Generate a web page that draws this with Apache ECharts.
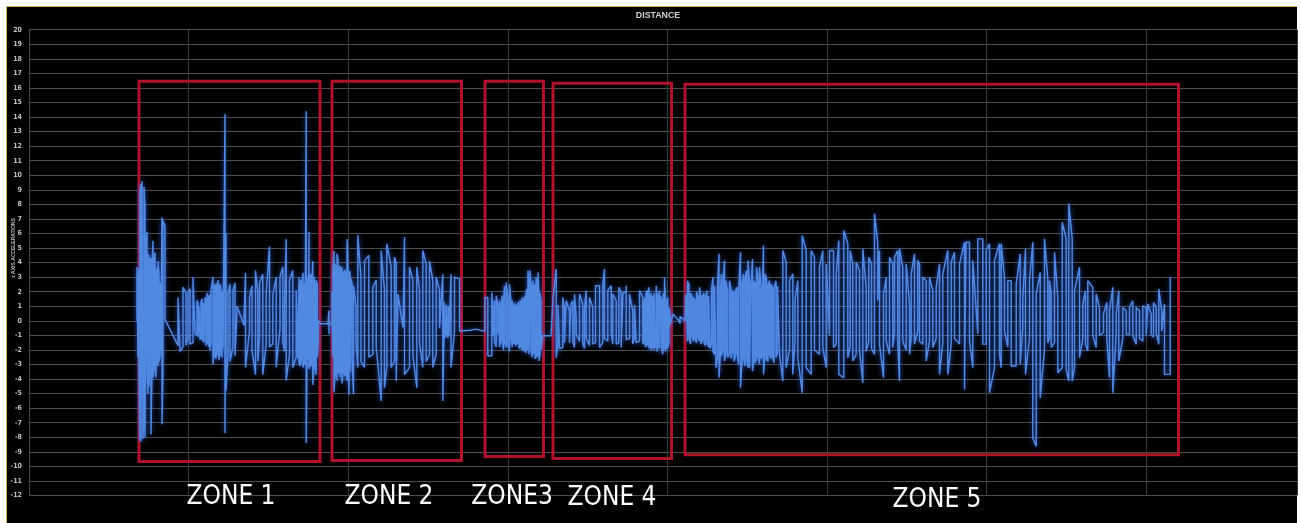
<!DOCTYPE html>
<html>
<head>
<meta charset="utf-8">
<script src="https://cdn.jsdelivr.net/npm/echarts@6/dist/echarts.min.js"></script>
<style>
html, body { margin: 0; padding: 0; background: #fff; width: 1301px; height: 523px; overflow: hidden; }
#frame { position: absolute; left: 6px; top: 6px; width: 1291px; height: 517px; background: #000;
         border-left: 1.5px solid #c9b45a; border-top: 1.5px solid #c9b45a; box-sizing: border-box; }
#chart { position: absolute; left: 0; top: 0; width: 1301px; height: 523px; }
</style>
</head>
<body>
<div id="frame"></div>
<div id="chart"></div>
<script>
// Z-axis acceleration readings along the run.
// Each column is [distance, reading, reading, ...]: several readings share one distance value.
const zone1 = [
  [108,0,3.7],[109,-2.5,2.2],[110,3.6,-3.1],[111,-8.2,8.8],[112,9.4,-8.3],[113,-8.4,9.6],[114,9.5,-8.1],[115,-6.5,9.2],
  [116,7.8,-8.0],[117,-8.0,5.2],[118,6.1,-3.4],[119,-5.0,4.6],[120,4.4,-4.5],[121,-3.2,4.0],[122,4.3,-7.8],[123,-3.5,3.6],
  [124,5.5,-3.9],[125,-3.0,4.2],[126,4.7,-3.3],[127,-3.9,3.4],[128,3.6,-2.9],[129,-3.1,4.1],[130,3.1,-2.8],[131,-2.4,2.6],
  [132,2.2,-2.0],[133,7.1,-7.1],[134,-3.5,6.9],[136,6.5,0.1],
  [137,0.0],[149,-1.7,1.6],[151,1.5,-2.1],[154,-1.8,2.3],[157,1.9,-1.7],[159,-1.2,2.0],[161,2.2,-1.6],[164,-1.5,3.0],[166,2.9,-0.8],
  [168,-1.0,1.4],[169,1.2,-1.1],[170,-1.2,1.0],[171,0.9,-1.3],[172,-1.1,1.3],[173,1.5,-1.2],[174,-1.4,1.2],[175,1.0,-1.5],
  [176,-1.6,1.6],[177,1.3,-1.7],[178,-1.5,1.9],[179,1.7,-1.3],[180,-1.8,1.5],[181,1.8,-2.0],[182,-1.6,2.1],[184,3.0,-3.0],
  [185,-2.2,2.2],[186,2.5,-2.4],[187,-2.6,2.3],[188,2.6,-2.2],[189,-2.4,2.8],[190,2.2,-2.7],[191,-2.0,2.5],[192,2.1,-2.3],
  [193,-2.5,2.0],[194,1.8,-1.9],[196,14.2,-7.7],[197,6.0,-4.8],[199,-2.2,1.9],
  [201,2.5,-2.8],[204,-1.8,2.1],[206,2.6,-2.4],[208,0.6,1.0],[215,-0.3,0.2],[216.5,3.3,-3.2],[220.5,-0.7,1.6],[223,2.4,-2.0],
  [226.5,-3.7,3.45],[228.8,2.0,-2.8],[230.5,-1.2,2.6],[233.8,3.2,-3.7],[237.2,-1.6,1.9],[240.5,5.1,-1.8],[243.8,-1.6,1.8],
  [247.2,3.0,-3.2],[251,-0.5,3.0],[253.8,3.7,-1.4],[255.5,-2.1,1.0],[257.2,5.6,-4.1],[260.5,-2.3,2.8],[263.8,3.45,-3.2],
  [267.2,-2.5,2.1],
  [269,2.2,-2.6],[270,3.0,-2.9],[271,-3.1,2.6],[272,2.8,-3.0],[273,-2.4,2.7],[274,3.3,-3.2],[275,-2.9,2.4],[276,2.6,-3.0],
  [277.2,14.4,-8.4],[278,-3.1,3.0],[279,2.5,-2.7],[280,6.1,-3.3],[281,-3.0,2.9],[282,3.2,-3.1],[283,-2.9,2.6],[283.8,4.1,-4.4],
  [285,-3.3,3.0],[286,2.4,-2.8],[287.2,-3.7,2.8],[288.3,2.5,-2.5],[289.3,-1.5,0.0],[292,-0.2],[299,-0.2],[300,0.7,-0.9,-0.2]
];
const zone2 = [
  [303,-0.3,2.0],[304,-2.5,3.5],[305,4.8,-4.9],[306,-3.8,3.9],[307,3.6,-3.5],[308,-4.1,4.6],[309,4.2,-3.6],[310,-3.4,3.4],
  [311,3.8,-3.9],[312,-3.2,3.3],[313,3.7,-4.3],[314,-3.6,3.2],[315,3.4,-3.3],[316,-3.8,3.5],[317,3.1,-3.4],[318,-4.1,5.6],
  [319,3.5,-3.2],[320,-5.06,3.2],[321,3.4,-3.5],[322,-3.4,2.9],[323,2.6,-2.7],[324.5,-5.05,2.4],
  [327,1.0,-1.5],[328.8,-3.2,5.9],[332,3.0,-2.8],[335.5,-3.2,4.1],[339.8,4.5,-2.5],[343.8,-2.3,2.3],[347.2,2.8,-1.8],
  [352.2,-5.5,4.83],[355.5,2.07,-4.6],[357.8,-3.2,5.29],[362.2,3.7,-3.2],[365.5,-2.76,4.37],[367.2,4.0,-4.14],[369,1.84],
  [374,-0.46],[375.5,5.75,-3.7],[380.5,-3.2,3.7],[383.8,2.8,-2.3],[387.8,-4.6,3.7],[390.5,2.1,-1.5],[393.8,-3.2,4.83],
  [397.2,3.9,-2.8],[400.5,-2.3,4.1],[403.8,2.8,-3.2],[407.2,-2.3,3.0],[410.5,2.1,-0.5],[413.8,3.2,-5.5],
  [415,-1.1,1.3],[416,1.4,-1.15],[417,-1.0,1.1],[418,1.2,-0.9],[419,-1.15,1.0],[420,0.8,-1.0],[422,3.2,-3.2],
  [425.5,-0.7,3.0],[426.5,2.9],[430.5,2.9,-0.7],[432.5,-0.7],[441,-0.65],[447,-0.57],[453,-0.68]
];
const zone3 = [
  [456,-0.7,1.6],[458.8,1.6,-2.4],[462.8,-2.4,1.95],[464,0.5,-1.0],[465.5,1.4,-1.4],[467.2,-1.8,1.73],[469,0.9,-0.9],
  [470.5,1.4,-1.8],[472,-1.2,1.0],[473.2,1.73,-1.5],[474.5,-2.0,1.2],[475.5,2.4,-1.4],[477.2,-1.84,2.64],[478.8,1.5,-1.6],
  [480.5,-2.1,2.5],[482,1.2,-1.1],[483.2,-1.8,1.4],
  [484,0.9,-1.4],[485,-1.6,1.0],[486,1.2,-1.5],[487,-1.7,0.8],[488,1.1,-1.6],[489,-1.4,1.3],[490,1.0,-1.9],[491,-1.6,1.4],
  [492,1.2,-1.8],[493,-2.0,1.6],[494,1.3,-1.7],[495,-2.1,1.5],[496,1.7,-1.9],[497,-2.2,1.9],[498,2.2,-2.0],[499,-1.8,3.45],
  [500,2.0,-2.3],[501,-2.2,3.45],[502,2.4,-2.0],[503,-2.5,2.2],[504,2.76,-2.3],[505,-2.1,2.3],[506,2.5,-2.6],[507,-2.4,2.99],
  [508,2.6,-2.5],[509,-2.2,3.33],[510,1.8,-2.76],[511,-2.3,1.9],[512,1.4,-2.0],[513.5,-1.03],[522,-1.03]
];
const zone4 = [
  [524,-1.03,1.5],[527.2,3.56,-2.53],[529,-1.6,1.1],[530.5,1.2,-1.9],[533.8,-1.84,1.61],[535.5,0.8,-1.5],
  [537.2,-1.6,1.38],[540.5,0.69,-1.5],[542,-1.6,1.15],[543.8,1.38,-1.4],[545.5,-1.84,1.84],[547.2,0.23,-0.9],
  [550.5,-1.4,1.84],[553.8,1.15,-1.6],[555.5,-1.9,0.9],[557.2,2.07,-1.2],[560.5,-1.7,1.61],[563.8,0.92,-1.6],
  [566.5,-1.5,2.41],[570.5,2.41,-1.84],[573.8,-1.5,2.53],[575.5,3.56,-1.2],[578.8,-1.4,2.07],[582.2,2.41,-0.9],
  [583.8,-1.6,1.84],[587.2,1.38,-1.6],[589.8,-1.5,2.3],[592.2,1.95,-1.84],[594,-1.84,1.95],[597.2,1.95,2.41,-1.3],
  [600.5,-1.2,1.84],[603.8,0.69,-1.6],[605.5,-1.2,1.1],[607.2,1.15,-1.5],[610.5,-1.4,2.07],[613.8,1.61,-1.6],
  [615,-1.4,1.2],[616,1.6,-1.6],[617,-1.8,1.9],[618,2.1,-1.5],[619,-1.7,1.8],[620,2.3,-1.9],[621,-1.6,1.6],[622,1.9,-2.0],
  [623,-1.8,1.7],[624,1.5,-1.6],[625,-2.0,1.9],[626,2.0,-1.7],[627.2,-1.9,2.4],[628,1.7,-2.1],[629,-1.8,1.6],[630.5,2.07,-1.9],
  [631.5,-2.0,1.7],[632.5,1.4,-1.8],[633.8,-2.3,1.38],[634.5,1.9,-2.0],[635.5,-1.8,2.99],[636.5,1.5,-2.1],[637.5,-1.7,1.3],
  [638.8,1.61,-1.9],[640,-1.5,0.9],[641,0.5,-0.3],[644,0.46],[650,0.0],[651,-0.2,0.3],[656,0.0]
];
const zone5 = [
  [657,0.0,1.8],[658.5,-1.4,2.76],[660,2.5,-1.2],[661.5,-1.6,1.9],[663,1.7,-1.0],[664.5,-1.4,1.6],[666,1.38,-1.2],
  [667.5,-1.5,2.0],[669,1.6,-1.1],[670.5,-1.4,2.3],[672,1.5,-1.6],[673.5,-1.3,1.7],[675,1.9,-1.5],[676.5,-1.7,1.6],
  [678,2.07,-1.4],[679.5,-1.8,1.7],[681,1.8,-1.9],[682.5,-1.6,2.2],[684,2.99,-2.1],[685.5,-2.3,2.4],[687,2.5,-3.22],
  [688.5,-2.53,2.2],[690,4.6,-3.9],[691.5,-2.1,2.0],[692.5,3.22,-2.4],[694,-2.0,2.6],[695.5,4.14,-2.76],[697,-2.2,2.76],
  [698.5,2.0,-2.5],[700.5,-2.3,2.76],[702,2.2,-2.6],[703.5,-2.0,2.07],[705,1.9,-2.8],[706.5,-2.4,2.07],[708,2.3,-2.2],
  [709.5,-3.0,1.9],[711.5,4.71,-4.6],[713,-2.8,2.5],[714.5,3.22,-2.6],[716,-3.1,2.9],[717.5,3.45,-2.5],[719,-3.22,4.14],
  [720.5,2.6,-3.22],[722,-3.22,2.3],[723.5,4.25,-3.45],[725,-2.7,2.76],[726.5,2.4,-2.9],[727.5,-2.5,3.68],[729,3.0,-2.4],
  [730.5,-2.99,3.68],[732,2.07,-2.6],[733.5,-2.3,2.4],[734.5,5.17,-3.68],[736,-2.4,3.22],[737.5,2.87,-2.6],[739,-2.8,2.5],
  [740.5,2.76,-2.3],[742,-2.6,2.53],[743.5,2.3,-2.4],[745,-2.9,2.2],[747,2.76,-2.5],[748.5,-2.2,2.4],[750.5,2.53,-2.3],
  [753.8,-4.14,4.83],[757.2,4.02,-3.22],[760.5,-2.0,2.76],[763.8,3.22,-3.68],[766,-1.4,1.4],[768.8,2.76,-2.5],
  [773.2,-4.94,5.86],[777.2,4.83,-3.22],[782.2,-3.68,4.83],[785.5,4.37,-2.0],[790.5,-2.3,3.68],[793.8,4.83,-1.8],
  [797.2,-3.22,3.91],[800.5,-1.0,4.83],[804.5,4.83,-1.84],[807.2,-1.6,3.22],[809.8,5.52,-3.68],[814.8,-3.91,6.2],
  [818.8,5.29,-2.53],[821.2,-1.7,4.83],[823.8,3.91,-2.76],[827.2,-2.3,4.02],[830.5,3.45,-2.0],[833.8,-4.25,4.94],
  [837.2,2.3,-2.1],[839.8,-1.4,4.37],[842.5,3.91,-1.9],[845.5,-2.3,7.36],[848.8,5.29,1.4],[850.5,1.4,4.83,-1.6],
  [854.5,-3.91,1.8],[857.2,2.99,-1.4],[860.5,-2.3,4.37],[863.8,3.91,-1.84],[865.5,-0.8,4.37],[868.8,4.83,-1.6],
  [870.5,-4.14,4.94],[873.8,3.68,-1.4],[877.2,-2.0,3.91],[880.5,1.2,-2.3],[882.2,-1.2,3.22],[885.5,4.6,-1.6],
  [888.8,-0.7,4.14],[890.5,3.91,-1.4],[893.8,-1.6,2.99],[897.2,2.76,-2.76],[900.5,-1.4,2.99],[903.8,2.07,-1.84],
  [907.2,-1.2,2.3],[910.5,3.91,-3.68],[913.8,-1.5,3.22],[918.8,4.83,-3.68],[922.2,-1.6,4.02],[925.5,4.71,-1.2],
  [930.5,-1.6,3.91],[935.5,5.4,-4.71],[937,-4.71,5.4],[940.5,5.4,-1.4],[943.8,-3.22,4.14],[948.8,-0.9,5.63],[953.8,5.63,-1.6],
  [957.2,-1.6,4.83],[960.5,5.29,-4.94],[965.5,-3.22,4.14],[970.5,5.29,-2.3],[972.2,-3.22,5.29],[975.5,2.99,-0.7],
  [978.8,-1.8,2.76],[982.2,2.76,-3.1],[987.2,-3.1,2.53],[991.2,4.6,-2.99],[993.8,-0.5,1.61],[996.5,4.94,-3.68],
  [1000.5,-1.2,2.76],[1003.8,5.4,-8.05],[1007.2,-8.62,1.84],[1011.2,3.33,-5.29],[1015.5,-2.0,5.63],[1018.8,2.87,-1.5],
  [1020.5,-1.2,2.76],[1022.2,1.84,-1.84],[1025.5,-1.5,4.71],[1028.8,1.61,-3.56],[1033.2,-3.22,6.78],[1037.2,5.63,-3.33],
  [1039.8,-4.14,8.05],[1043.2,5.63,-4.14],[1045.5,-3.22,2.07],[1050.5,3.68,-2.53],[1053.8,-1.2,1.15],[1056.5,2.07,-1.61],
  [1058.8,-2.07,2.76],[1063.8,2.3,-1.0],[1067.2,-1.84,1.84],[1070.5,0.92,-1.0],[1074.5,-0.8,0.46],[1077.8,1.26,-1.15],
  [1080.5,-3.91,0.69],[1083.8,2.3,-4.94],[1087.2,-1.0,0.46],[1089.8,2.07,-2.76],[1093.8,-1.2,0.92],[1097.2,0.69,-0.9],
  [1100.5,-0.92,0.92],[1103.8,1.38,-1.0],[1107.2,-1.61,0.92],[1110.5,0.69,-1.2],[1113.8,-1.4,1.03],[1117.2,0.92,-1.0],
  [1118.8,-0.9,1.15],[1122.2,0.46,-1.0],[1124.5,-1.1,1.26],[1127.2,0.92,-0.8],[1129.8,-1.61,2.18],[1132.8,0.69,-0.7],
  [1135.5,1.15,-3.68],[1141.2,-3.68,2.99]
];

// Zone boxes: distance span and acceleration span, plus where each caption is centred.
const zoneNames   = ['ZONE 1', 'ZONE 2', 'ZONE3', 'ZONE 4', 'ZONE 5'];
const zoneStart   = [110, 303, 456, 524, 656];
const zoneEnd     = [291, 432.5, 514.5, 642.5, 1149.5];
const zoneTop     = [16.45, 16.45, 16.45, 16.32, 16.25];
const zoneBottom  = [-9.66, -9.6, -9.32, -9.45, -9.2];
const zoneLabelAt = [202, 360, 483, 583, 908];

const accelMin = -12, accelMax = 20, accelStep = 1;
const distanceMax = 1268, distanceStep = 159.6;

const points = [];
[zone1, zone2, zone3, zone4, zone5].forEach(zone => {
  zone.forEach(col => {
    for (let i = 1; i < col.length; i++) points.push([col[0], col[i]]);
  });
});

const chart = echarts.init(document.getElementById('chart'), null, { renderer: 'canvas' });

chart.setOption({
  backgroundColor: 'transparent',
  animation: false,
  grid: { left: 29, right: 4, top: 29.7, bottom: 27.5 },
  xAxis: {
    type: 'value', min: 0, max: distanceMax, interval: distanceStep,
    axisLine: { show: true, lineStyle: { color: '#4a4a4a', width: 1 } },
    axisTick: { show: false },
    axisLabel: { show: false },
    splitLine: { show: true, lineStyle: { color: '#3a3a3a', width: 1 } }
  },
  yAxis: {
    type: 'value', min: accelMin, max: accelMax, interval: accelStep,
    axisLine: { show: true, lineStyle: { color: '#4a4a4a', width: 1 } },
    axisTick: { show: false },
    axisLabel: { color: '#c4c4c4', fontSize: 7, fontWeight: 'bold', margin: 7,
                 fontFamily: '"Liberation Sans Narrow", "DejaVu Sans Condensed", sans-serif' },
    splitLine: { show: true, lineStyle: { color: '#4d4d4d', width: 1 } }
  },
  series: [
    {
      type: 'line',
      data: points,
      showSymbol: false,
      symbol: 'none',
      sampling: false,
      silent: true,
      z: 3,
      lineStyle: { color: '#5289e0', width: 1.45, shadowBlur: 5, shadowColor: 'rgba(50,110,255,0.8)' }
    },
    {
      type: 'line',
      data: [],
      z: 6,
      silent: true,
      markArea: {
        silent: true,
        itemStyle: { color: 'rgba(0,0,0,0)', borderColor: '#b0122b', borderWidth: 3 },
        label: { show: false },
        data: zoneNames.map((n, i) => [
          { xAxis: zoneStart[i], yAxis: zoneTop[i] },
          { xAxis: zoneEnd[i], yAxis: zoneBottom[i] }
        ])
      }
    }
  ]
});

// Captions under each zone, the chart title and the value-axis name
const captionY = [497, 497, 497, 498, 500];
const graphics = zoneNames.map((n, i) => {
  const px = chart.convertToPixel({ gridIndex: 0 }, [zoneLabelAt[i], 0]);
  return {
    type: 'text', x: px[0], y: captionY[i], silent: true,
    style: { text: n, align: 'center', verticalAlign: 'middle', fill: '#ffffff',
             font: '26px "Liberation Sans Narrow", "DejaVu Sans Condensed", sans-serif' }
  };
});
graphics.push({
  type: 'text', x: 658, y: 16, silent: true,
  style: { text: 'DISTANCE', align: 'center', verticalAlign: 'middle', fill: '#d2d2d2',
           font: 'bold 8.8px "Liberation Sans", Arial, sans-serif' }
});
graphics.push({
  type: 'text', x: 14, y: 248, rotation: Math.PI / 2, silent: true,
  style: { text: 'z AXIS ACCELERATIONS', align: 'center', verticalAlign: 'middle', fill: '#bdbdbd',
           font: 'bold 5px "Liberation Sans Narrow", "Liberation Sans", sans-serif' }
});
chart.setOption({ graphic: graphics });
</script>
</body>
</html>
